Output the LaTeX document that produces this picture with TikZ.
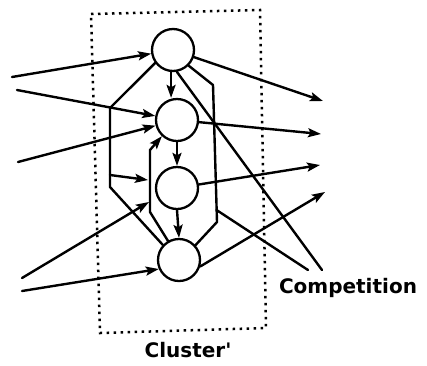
\documentclass[tikz,border=0pt]{standalone}
\usepackage{fontspec}
\setmainfont{DejaVu Sans}
\usetikzlibrary{arrows.meta}
\begin{document}
\begin{tikzpicture}[x=1pt,y=-1pt,
  neuron/.style={circle,draw,line width=2.3pt,minimum size=42pt,inner sep=0pt},
  wire/.style={line width=2.4pt,line join=round,line cap=round},
  arr/.style={wire,-{Stealth[length=13pt,width=9pt,inset=2.5pt]}},
  boxline/.style={line width=2.5pt,dash pattern=on 2.5pt off 4.5pt},
  lab/.style={font=\bfseries\fontsize{20}{24}\selectfont,inner sep=0pt,anchor=base}]
\useasboundingbox (0,0) rectangle (427,365);
% cluster box
\draw[boxline] (91,14) -- (260,10) -- (266,328) -- (100,333) -- cycle;
% neurons
\node[neuron] (n1) at (173,50) {};
\node[neuron] (n2) at (177,120) {};
\node[neuron] (n3) at (177,188) {};
\node[neuron] (n4) at (179,260) {};
% free ends and bends
\coordinate (i1) at (12,77);
\coordinate (i2) at (17,90);
\coordinate (i3) at (18,162);
\coordinate (i4) at (22,278);
\coordinate (i5) at (22,291);
\coordinate (t4) at (149,202);
\coordinate (o1) at (323,101);
\coordinate (o2) at (321,134);
\coordinate (o3) at (320,165);
\coordinate (o4) at (325,192);
\coordinate (la) at (110,108);
\coordinate (lb) at (110,187);
\coordinate (ma) at (150,150);
\coordinate (mb) at (150,212);
\coordinate (ha) at (110,175);
\coordinate (hb) at (148,180);
\coordinate (ra) at (213,85);
\coordinate (rb) at (217,222);
\coordinate (rc) at (216.5,210);
\coordinate (c1) at (322,270);
\coordinate (c2) at (308,270);
% inputs
\draw[arr] (i1) -- (n1);
\draw[arr] (i2) -- (n2);
\draw[arr] (i3) -- (n2);
\draw[arr] (i4) -- (t4);
\draw[arr] (i5) -- (n4.204);
% internal paths
\draw[wire] (n1.216) -- (la) -- (lb) -- (n4.137);
\draw[arr] (n4.120) -- (mb) -- (ma) -- (n2.227);
\draw[arr] (ha) -- (hb);
\draw[wire] (n1.315) -- (ra) -- (rb) -- (n4.42);
\draw[arr] (n1.265) -- (n1.265 |- n2.north);
\draw[arr] (n2.south) -- (n3.north);
\draw[arr] (n3.south) -- (n4.north);
% competition
\draw[wire] (n1.280) -- (c1);
\draw[wire] (rc) -- (c2);
% outputs
\draw[arr] (n1) -- (o1);
\draw[arr] (n2) -- (o2);
\draw[arr] (n3) -- (o3);
\draw[arr] (n4.343) -- (o4);
% labels
\node[lab] (comp) at (348,293) {Competition};
\node[lab] (clus) at (188,357) {Cluster\textquotesingle};
\end{tikzpicture}
\end{document}
